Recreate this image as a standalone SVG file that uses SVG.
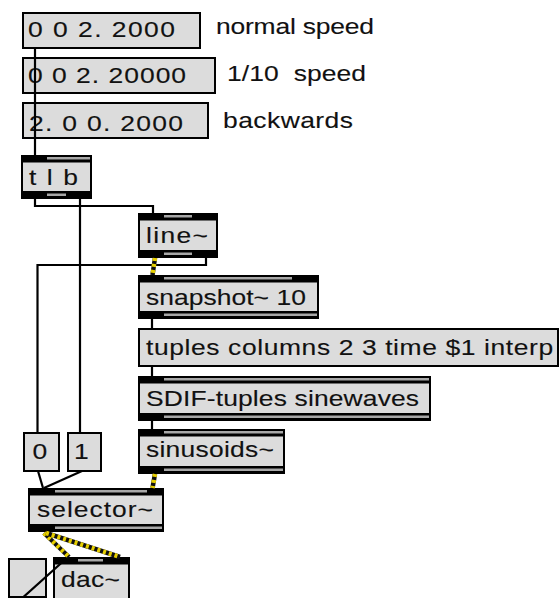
<svg xmlns="http://www.w3.org/2000/svg" width="560" height="598" viewBox="0 0 560 598">
  <style>
    text { font-family: "Liberation Sans", Arial, Helvetica, sans-serif; font-size: 21.5px; fill: #111; stroke: #111; stroke-width: 0.12; white-space: pre; }
    .msg { fill: #dcdcdc; stroke: #000; stroke-width: 2; }
    .frame { fill: #000; }
    .body { fill: #dcdcdc; }
    .stripe { fill: #a8a8a8; }
    .cord { fill: none; stroke: #000; stroke-width: 2.2; }
    .sig-base { fill: none; stroke: #111; stroke-width: 4.5; }
    .sig-dash { fill: none; stroke: #e6cf00; stroke-width: 4.5; stroke-dasharray: 3 3; }
  </style>
  <rect width="560" height="598" fill="#fff"/>

  <!-- message boxes (text is drawn with a horizontal stretch) -->
  <g id="msg-normal">
    <rect class="msg" x="23" y="13" width="177" height="35"/>
    <text transform="translate(28 37) scale(1.23 1)" textLength="119.5" lengthAdjust="spacing">0 0 2. 2000</text>
  </g>
  <g id="msg-slow">
    <rect class="msg" x="23" y="58" width="192" height="35"/>
    <text transform="translate(28 83) scale(1.23 1)" textLength="128.5" lengthAdjust="spacing">0 0 2. 20000</text>
  </g>
  <g id="msg-back">
    <rect class="msg" x="23" y="103" width="185" height="35"/>
    <text transform="translate(29 131) scale(1.23 1)" textLength="125.2" lengthAdjust="spacing">2. 0 0. 2000</text>
  </g>

  <!-- comments -->
  <g id="comment-normal"><text transform="translate(216 34) scale(1.23 1)" textLength="128.5" lengthAdjust="spacing">normal speed</text></g>
  <g id="comment-slow"><text transform="translate(227 81) scale(1.23 1)" textLength="113" lengthAdjust="spacing">1/10  speed</text></g>
  <g id="comment-back"><text transform="translate(223 128) scale(1.23 1)" textLength="105.7" lengthAdjust="spacing">backwards</text></g>

  <!-- trigger -->
  <g id="obj-tlb">
    <rect class="frame" x="21" y="155" width="71" height="44"/>
    <rect class="body" x="23" y="162.5" width="67" height="28.5"/>
    <rect class="stripe" x="47" y="157" width="43" height="2.5"/>
    <rect class="stripe" x="47" y="193.5" width="19" height="2.5"/>
    <text transform="translate(29 185) scale(1.23 1)" textLength="39.8" lengthAdjust="spacing">t l b</text>
  </g>

  <!-- line~ -->
  <g id="obj-line">
    <rect class="frame" x="138" y="213" width="80" height="45"/>
    <rect class="body" x="140" y="220.5" width="76" height="29.5"/>
    <rect class="stripe" x="164" y="215" width="28" height="2.5"/>
    <rect class="stripe" x="164" y="252.5" width="28" height="2.5"/>
    <text transform="translate(146 243) scale(1.23 1)" textLength="50.4" lengthAdjust="spacing">line~</text>
  </g>

  <!-- snapshot~ -->
  <g id="obj-snapshot">
    <rect class="frame" x="138" y="275" width="181" height="44"/>
    <rect class="body" x="140" y="282.5" width="177" height="28.5"/>
    <rect class="stripe" x="164" y="277" width="128" height="2.5"/>
    <rect class="stripe" x="164" y="313.5" width="153" height="2.5"/>
    <text transform="translate(146 305) scale(1.23 1)" textLength="130" lengthAdjust="spacing">snapshot~ 10</text>
  </g>

  <!-- tuples message -->
  <g id="msg-tuples">
    <rect class="msg" x="139" y="329" width="419" height="37"/>
    <text transform="translate(146 355) scale(1.23 1)" textLength="331" lengthAdjust="spacing">tuples columns 2 3 time $1 interp</text>
  </g>

  <!-- SDIF-tuples -->
  <g id="obj-sdif">
    <rect class="frame" x="138" y="376" width="293" height="45"/>
    <rect class="body" x="140" y="383.5" width="289" height="29.5"/>
    <rect class="stripe" x="164" y="378" width="265" height="2.5"/>
    <rect class="stripe" x="164" y="415.5" width="265" height="2.5"/>
    <text transform="translate(146 406) scale(1.23 1)" textLength="222" lengthAdjust="spacing">SDIF-tuples sinewaves</text>
  </g>

  <!-- sinusoids~ -->
  <g id="obj-sinusoids">
    <rect class="frame" x="138" y="429" width="147" height="45"/>
    <rect class="body" x="140" y="436.5" width="143" height="29.5"/>
    <rect class="stripe" x="164" y="431" width="119" height="2.5"/>
    <rect class="stripe" x="164" y="468.5" width="119" height="2.5"/>
    <text transform="translate(146 457) scale(1.23 1)" textLength="104" lengthAdjust="spacing">sinusoids~</text>
  </g>

  <!-- selector inputs -->
  <g id="msg-zero">
    <rect class="msg" x="24" y="433" width="35" height="38"/>
    <text transform="translate(32.5 459) scale(1.23 1)">0</text>
  </g>
  <g id="msg-one">
    <rect class="msg" x="68" y="433" width="33" height="38"/>
    <text transform="translate(74 459) scale(1.23 1)">1</text>
  </g>

  <!-- selector~ -->
  <g id="obj-selector">
    <rect class="frame" x="28" y="488" width="136" height="44"/>
    <rect class="body" x="30" y="495.5" width="132" height="28.5"/>
    <rect class="stripe" x="55" y="490" width="92" height="2.5"/>
    <rect class="stripe" x="55" y="526.5" width="107" height="2.5"/>
    <text transform="translate(37 517) scale(1.23 1)" textLength="94.3" lengthAdjust="spacing">selector~</text>
  </g>

  <!-- toggle -->
  <g id="toggle">
    <rect class="msg" x="9" y="559" width="37" height="38"/>
  </g>

  <!-- dac~ -->
  <g id="obj-dac">
    <rect class="frame" x="53" y="557" width="77" height="45"/>
    <rect class="body" x="55" y="564.5" width="73" height="40"/>
    <rect class="stripe" x="78" y="559" width="25" height="2.5"/>
    <text transform="translate(61 587) scale(1.23 1)" textLength="48" lengthAdjust="spacing">dac~</text>
  </g>

  <!-- patch cords -->
  <g id="cords">
    <path class="cord" d="M35 49 V155"/>
    <path class="cord" d="M35 199 V206 H153 V213"/>
    <path class="cord" d="M80 199 V433"/>
    <path class="cord" d="M206 258 V265 H37.5 V433"/>
    <path class="cord" d="M152 319 V329"/>
    <path class="cord" d="M152 366 V376"/>
    <path class="cord" d="M152 421 V429"/>
    <path class="cord" d="M38 471 L43 488"/>
    <path class="cord" d="M82 471 L44 488"/>
    <path class="cord" stroke-width="2.6" d="M19 601 L68 557"/>

    <g id="signal-cords">
      <path class="sig-base" d="M155 258 L152.5 275"/>
      <path class="sig-dash" d="M155 258 L152.5 275"/>
      <path class="sig-base" d="M155 474 L152.5 488"/>
      <path class="sig-dash" d="M155 474 L152.5 488"/>
      <path class="sig-base" d="M44 533 L69 557"/>
      <path class="sig-dash" d="M44 533 L69 557"/>
      <path class="sig-base" d="M46 533 L120 557"/>
      <path class="sig-dash" d="M46 533 L120 557"/>
    </g>
  </g>
</svg>
